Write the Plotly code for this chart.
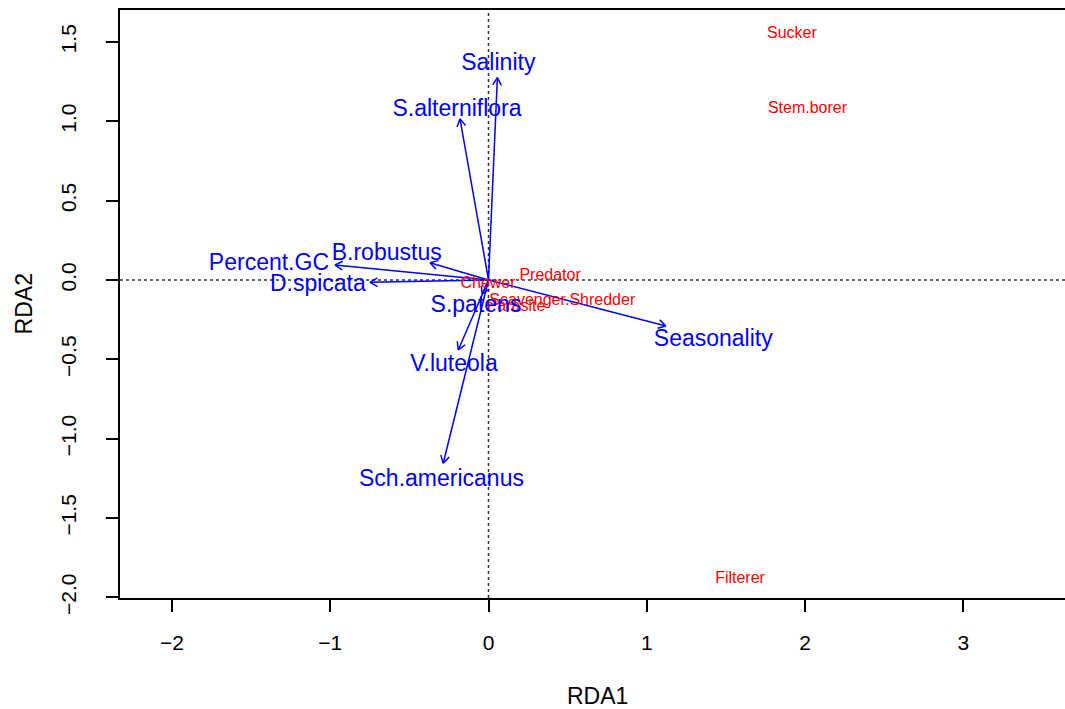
import math
import plotly.graph_objects as go

# Environmental / plant variables (blue arrows)
env_names = ["Salinity", "S.alterniflora", "B.robustus", "Percent.GC", "D.spicata",
             "S.patens", "V.luteola", "Sch.americanus", "Seasonality"]
env_x = [0.056, -0.180, -0.370, -0.970, -0.749, -0.040, -0.191, -0.286, 1.121]
env_y = [1.275, 1.015, 0.109, 0.095, -0.015, -0.090, -0.441, -1.155, -0.290]
env_label_x = [0.062, -0.199, -0.643, -1.387, -1.078, -0.079, -0.218, -0.297, 1.420]
env_label_y = [1.357, 1.069, 0.163, 0.100, -0.036, -0.166, -0.538, -1.263, -0.380]

# Feeding guilds (red labels)
guild_names = ["Sucker", "Stem.borer", "Filterer", "Predator", "Chewer",
               "Scavenger.Shredder", "Parasite"]
guild_x = [1.917, 2.015, 1.589, 0.389, -0.003, 0.466, 0.174]
guild_y = [1.550, 1.075, -1.885, 0.028, -0.027, -0.131, -0.168]

x_ticks = [-2, -1, 0, 1, 2, 3]
y_ticks = [-2.0, -1.5, -1.0, -0.5, 0.0, 0.5, 1.0, 1.5]
x_range = [-2.328, 3.642]
y_range = [-2.004, 1.701]

FONT = "Liberation Sans, Arial, Helvetica, sans-serif"

# arrow shafts + heads
ax_x, ax_y = [], []
head_len = 0.055
head_ang = math.radians(30)
for tx, ty in zip(env_x, env_y):
    ax_x += [0, tx, None]
    ax_y += [0, ty, None]
    ang = math.atan2(ty, tx)
    for s in (1, -1):
        a = ang + math.pi + s * head_ang
        ax_x += [tx + head_len * math.cos(a), tx, None]
        ax_y += [ty + head_len * math.sin(a), ty, None]

fig = go.Figure()
fig.add_trace(go.Scatter(x=ax_x, y=ax_y, mode="lines",
                         line=dict(color="#0000FF", width=1.5),
                         hoverinfo="skip", showlegend=False))
fig.add_trace(go.Scatter(x=guild_x, y=guild_y, mode="text", text=guild_names,
                         textposition="middle center",
                         textfont=dict(color="#FF0000", size=16, family=FONT),
                         showlegend=False))
fig.add_trace(go.Scatter(x=env_label_x, y=env_label_y, mode="text", text=env_names,
                         textposition="middle center",
                         textfont=dict(color="#0000FF", size=23, family=FONT),
                         showlegend=False))

fig.add_shape(type="line", xref="x", yref="paper", x0=0, x1=0, y0=0, y1=1,
              line=dict(color="#333333", width=1.5, dash="dot"), layer="below")
fig.add_shape(type="line", xref="paper", yref="y", x0=0, x1=1, y0=0, y1=0,
              line=dict(color="#333333", width=1.5, dash="dot"), layer="below")

fig.add_annotation(text="RDA1", xref="paper", yref="paper", x=0.505, y=-0.192,
                   showarrow=False, font=dict(size=23, family=FONT, color="black"))
fig.add_annotation(text="RDA2", xref="paper", yref="paper", x=-0.117, y=0.5,
                   textangle=-90, showarrow=False,
                   font=dict(size=23, family=FONT, color="black"))

fig.update_xaxes(range=x_range, tickvals=x_ticks,
                 ticktext=[str(v).replace("-", "\u2212") for v in x_ticks],
                 showgrid=False, zeroline=False, showline=True, linecolor="black",
                 linewidth=1.5, mirror=True, ticks="outside", ticklen=12,
                 tickwidth=1.5, tickcolor="black", ticklabelstandoff=13,
                 tickfont=dict(size=21, family=FONT, color="black"))
fig.update_yaxes(range=y_range, tickvals=y_ticks,
                 ticktext=[f"{v:.1f}".replace("-", "\u2212") for v in y_ticks],
                 tickangle=-90,
                 showgrid=False, zeroline=False, showline=True, linecolor="black",
                 linewidth=1.5, ticks="outside", ticklen=12,
                 tickwidth=1.5, tickcolor="black", ticklabelstandoff=22,
                 tickfont=dict(size=21, family=FONT, color="black"))

fig.update_layout(width=1065, height=709,
                  margin=dict(l=120, r=0, t=10, b=111),
                  plot_bgcolor="white", paper_bgcolor="white",
                  font=dict(family=FONT, color="black"))

fig.write_html("out.html",
               config={"displayModeBar": False},
               post_script="document.body.style.margin='0';"
                           "document.body.style.overflow='hidden';")
